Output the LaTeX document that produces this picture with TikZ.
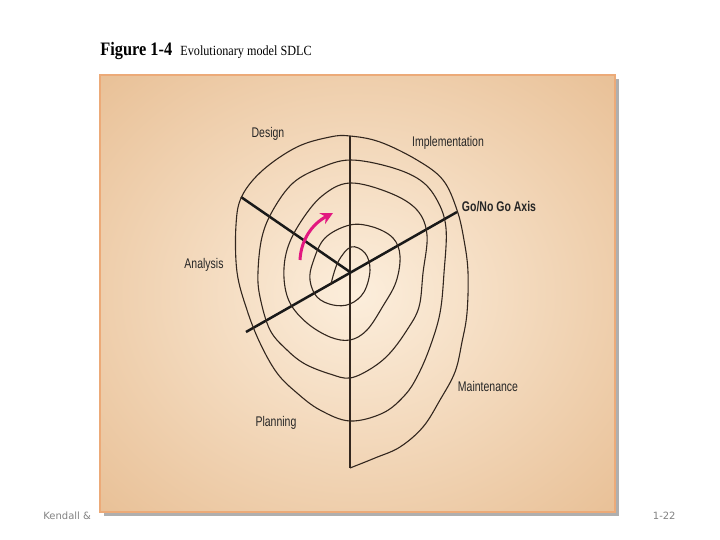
\documentclass[tikz,border=0pt]{standalone}
\usepackage{fontspec}
\usepackage{tikz}
\usetikzlibrary{arrows.meta}
\setmainfont{Liberation Serif}
\newfontfamily\labelfont[FakeStretch=0.75]{Liberation Sans}
\newfontfamily\figfont[FakeStretch=0.86]{Liberation Serif}
\newfontfamily\captionfont[FakeStretch=0.87]{Liberation Serif}
\newfontfamily\footfont{DejaVu Sans}

\definecolor{paneldark}{RGB}{229,184,138}
\definecolor{panellight}{RGB}{252,238,220}
\definecolor{panelrim}{RGB}{236,170,120}
\definecolor{shadowgray}{RGB}{175,175,175}
\definecolor{spiralink}{RGB}{50,38,30}
\definecolor{arrowpink}{RGB}{226,24,128}
\definecolor{footgray}{RGB}{130,130,130}

\pgfdeclareradialshading{panelglow}{\pgfpoint{0bp}{0bp}}{color(0bp)=(panellight); color(42bp)=(paneldark); color(50bp)=(paneldark)}

\tikzset{
    phase/.style={font=\labelfont\fontsize{7}{8}\selectfont, text=black!85, inner sep=0pt},
    axisbold/.style={line width=1.25pt, draw=black!90},
    axisthin/.style={line width=0.55pt, draw=spiralink},
    spiral/.style={line width=0.55pt, draw=spiralink},
    footer/.style={font=\footfont\fontsize{5}{6}\selectfont, text=footgray, inner sep=0pt}
}

\begin{document}
\begin{tikzpicture}[x=0.5pt, y=-0.5pt]
\useasboundingbox (0,0) rectangle (720,540);

% Title
\node[anchor=base west, inner sep=0pt] (fignum) at (100,56) {\figfont\bfseries\fontsize{9.5}{11}\selectfont Figure 1-4};
\node[anchor=base west, inner sep=0pt] (figcap) at (180,56) {\captionfont\fontsize{7}{8}\selectfont Evolutionary model SDLC};

% Footer
\node[footer, anchor=base west] (author) at (43,520) {Kendall \&};
\node[footer, anchor=base east] (slide) at (676,520) {1-22};

% Panel with shadow
\fill[shadowgray] (104,79) rectangle (619,516);
\shade[shading=panelglow] (100,75) rectangle (615,512);
\draw[panelrim, line width=0.6pt] (100,75) rectangle (615,512);

% Axes
\coordinate (center) at (350,272);
\coordinate (axistop) at (350,136);
\coordinate (spiralend) at (350,468);
\coordinate (designend) at (241,197);
\coordinate (gostart) at (246,332);
\coordinate (goend) at (457,212);
\draw[axisthin] (axistop) -- (spiralend);
\draw[axisbold] (center) -- (designend);
\draw[axisbold] (gostart) -- (goend);

% Spiral
\draw[spiral] plot[smooth, tension=0.6] coordinates {
    (331,284) (338,262) (351,247) (365,253) (370,270) (364,292) (350,304)
    (333,305) (317,297) (310,280) (313,262) (325,238) (350,225)
    (373,227) (393,238) (400,256) (396,282) (383,306) (367,330) (350,340)
    (330,337) (307,323) (290,303) (284,278) (287,250) (300,223) (322,196) (350,183)
    (390,193) (417,210) (427,235) (423,273) (419,307) (407,330) (390,353) (372,368) (350,378)
    (330,374) (305,364) (287,350) (270,330) (260,297) (258,272) (262,237) (273,210) (293,183) (320,168) (350,160)
    (390,167) (420,180) (437,200) (446,228) (444,273) (440,313) (430,347) (418,375) (405,395) (383,413) (350,421)
    (320,410) (297,393) (277,373) (260,343) (247,310) (237,272) (236,225) (242,196) (263,170) (297,147) (330,137) (350,136)
    (380,142) (417,160) (443,180) (457,210) (464,240) (468,272) (467,313) (462,342) (455,372) (440,400) (423,427) (400,447) (375,458) (350,468)
};

% Direction arrow
\coordinate (arrowtail) at (300,260);
\coordinate (arrowtip) at (333,213);
\draw[arrowpink, line width=1.5pt, -{Stealth[length=6pt, width=6pt]}] (arrowtail) .. controls (301,240) and (312,224) .. (arrowtip);

% Phase labels
\node[phase] (design) at (268,134) {Design};
\node[phase] (implementation) at (448,143) {Implementation};
\node[phase, font=\labelfont\bfseries\fontsize{7}{8}\selectfont] (gonogo) at (499,207) {Go/No Go Axis};
\node[phase] (analysis) at (204,265) {Analysis};
\node[phase] (maintenance) at (488,386) {Maintenance};
\node[phase] (planning) at (276,423) {Planning};
\end{tikzpicture}
\end{document}
